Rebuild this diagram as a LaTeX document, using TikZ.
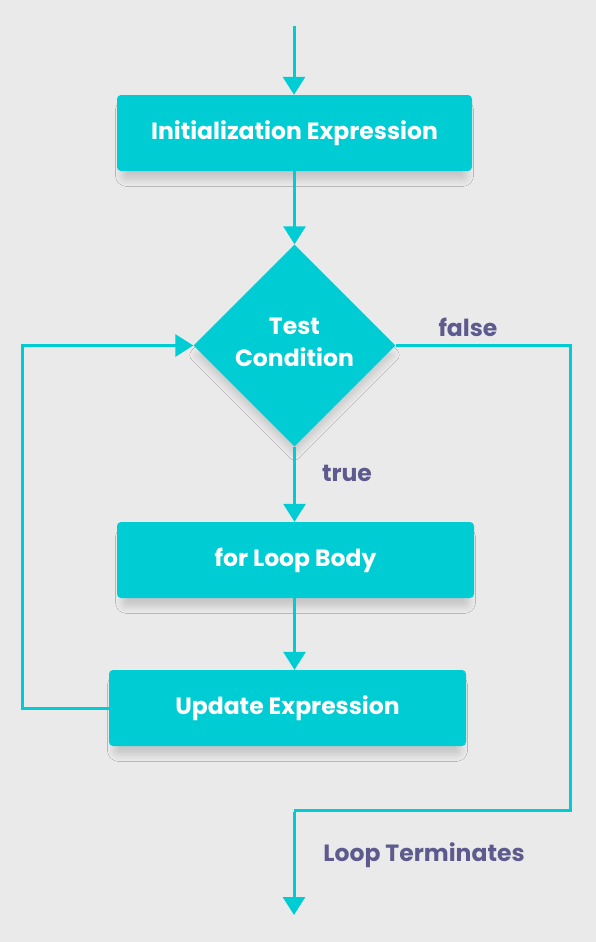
\documentclass[tikz,border=0pt]{standalone}
\usepackage{fontspec}
\setmainfont{Poppins}
\usetikzlibrary{arrows.meta,shapes.geometric,shadows.blur}
\definecolor{bg}{HTML}{EAEAEA}
\definecolor{cy}{HTML}{00CCD4}
\definecolor{lbl}{HTML}{5E5A8E}
\tikzset{
  box/.style={fill=cy, rounded corners=4pt, minimum width=355pt, minimum height=76pt, inner sep=0pt,
    text=white, font=\fontsize{23.5}{28}\selectfont\bfseries,
    blur shadow={shadow xshift=0pt, shadow yshift=-10pt, shadow scale=0.97, shadow blur radius=7pt, shadow opacity=15}},
  dia/.style={diamond, fill=cy, minimum width=202pt, minimum height=202pt, inner sep=0pt, aspect=1,
    blur shadow={shadow xshift=0pt, shadow yshift=-10pt, shadow scale=0.97, shadow blur radius=7pt, shadow opacity=15}},
  diatext/.style={text=white, align=center, font=\fontsize{23.5}{32}\selectfont\bfseries},
  conn/.style={draw=cy, line width=3pt, -{Triangle[length=18pt,width=22pt]}},
  plain/.style={draw=cy, line width=3pt},
  lab/.style={text=lbl, font=\fontsize{23.5}{28}\selectfont\bfseries},
}
\begin{document}
\begin{tikzpicture}[x=1pt,y=-1pt]
\fill[bg] (0,0) rectangle (596,942);
\useasboundingbox (0,0) rectangle (596,942);
\coordinate (start) at (294,26);
\node[box] (init) at (294.5,133) {Initialization Expression};
\node[dia] (cond) at (294.5,345.5) {};
\node[diatext] (condtxt) at (294.5,342) {Test\\Condition};
\node[box, minimum width=357pt] (body) at (295.5,560) {for Loop Body};
\node[box, minimum width=357pt] (upd) at (287.5,708) {Update Expression};
\coordinate (lc) at (22,708);
\coordinate (rc1) at (570,345.5);
\coordinate (rc2) at (570,810);
\coordinate (bc) at (294,810);
\coordinate (endp) at (294,915);
\draw[conn] (start) -- (init.north -| start);
\draw[conn] (init.south -| cond) -- (cond.north);
\draw[conn] (cond.south) -- (body.north -| cond);
\draw[conn] (body.south -| cond) -- (upd.north -| cond);
\draw[conn] (upd.west) -- (lc) |- (cond.west);
\draw[plain] (cond.east) -- (rc1) -- (rc2) -- (bc);
\draw[conn] ([yshift=-1.5pt]bc) -- (endp);
\node[lab] (lfalse) at (468,327) {false};
\node[lab] (ltrue) at (347,473) {true};
\node[lab] (lterm) at (424,855) {Loop Terminates};
\end{tikzpicture}
\end{document}
